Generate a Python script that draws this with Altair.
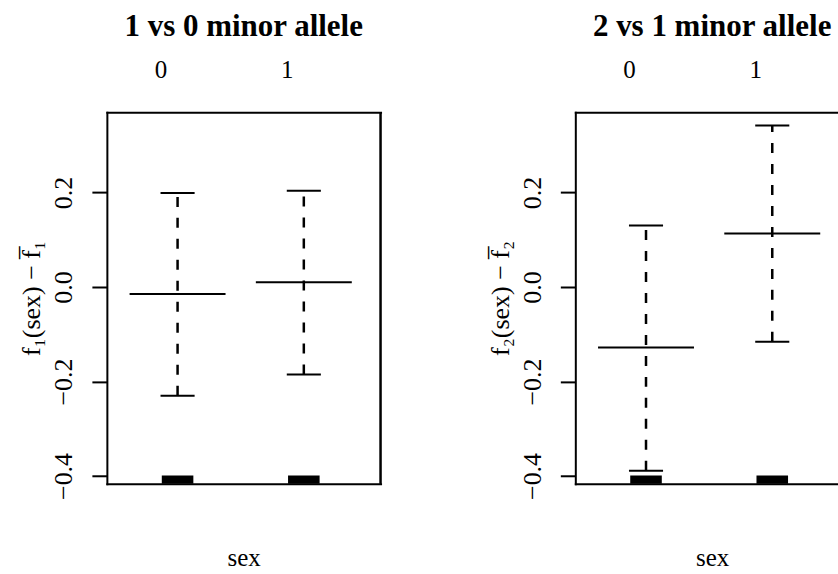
import altair as alt
import pandas as pd

# ---- data ----
groups = [0, 1]
panel_titles = ["1 vs 0 minor allele", "2 vs 1 minor allele"]
y_titles = ["f\u2081(sex) \u2212 f\u0305\u2081", "f\u2082(sex) \u2212 f\u0305\u2082"]
x_title = "sex"
upper_1 = [0.199, 0.204]
mean_1 = [-0.015, 0.010]
lower_1 = [-0.230, -0.185]
upper_2 = [0.130, 0.342]
mean_2 = [-0.128, 0.113]
lower_2 = [-0.389, -0.116]
y_ticks = [-0.4, -0.2, 0.0, 0.2]
x_ticks = [0, 1]
rug_top = -0.399

# ---- style / layout ----
FONT = "Liberation Serif"
Y_DOMAIN = [-0.4165, 0.370]
X_MIN = -0.56
PX_PER_UNIT = 126.4
H = 372
LEFT_W, RIGHT_W = 274, 263
MEAN_HALF, CAP_HALF, RUG_HALF = 0.38, 0.135, 0.125


def panel(idx, upper, mean, lower, width, right_edge):
    x_max = X_MIN + width / PX_PER_UNIT
    df = pd.DataFrame({"g": groups, "upper": upper, "mean": mean, "lower": lower})
    df["m0"] = df["g"] - MEAN_HALF
    df["m1"] = df["g"] + MEAN_HALF
    df["c0"] = df["g"] - CAP_HALF
    df["c1"] = df["g"] + CAP_HALF
    df["r0"] = df["g"] - RUG_HALF
    df["r1"] = df["g"] + RUG_HALF
    df["rug_top"] = rug_top
    df["ymin"] = Y_DOMAIN[0]

    xs = alt.Scale(domain=[X_MIN, x_max], nice=False, zero=False)
    ys = alt.Scale(domain=Y_DOMAIN, nice=False, zero=False)

    yax = alt.Axis(values=y_ticks, format=".1f", title=y_titles[idx], labelAngle=-90,
                   tickSize=15, tickWidth=2, tickColor="black", domainWidth=2,
                   domainColor="black", domainCap="square", labelFont=FONT, labelFontSize=26,
                   labelColor="black", labelPadding=15, titleFont=FONT, titleFontSize=26,
                   titleFontWeight="normal", titleColor="black", titlePadding=6, grid=False)
    bottom_ax = alt.Axis(orient="bottom", labels=False, ticks=False, domainWidth=2,
                         domainColor="black", domainCap="square", title=x_title, titleFont=FONT,
                         titleFontSize=25, titleFontWeight="normal", titleColor="black",
                         titlePadding=62, titleX=137, grid=False)
    top_ax = alt.Axis(orient="top", values=x_ticks, format="d", ticks=False, domainWidth=2,
                      domainColor="black", domainCap="square", labelOffset=-17, labelPadding=30,
                      labelFont=FONT, labelFontSize=25, labelColor="black", title=None, grid=False)

    base = alt.Chart(df)
    rug = base.mark_rect(color="black").encode(
        x=alt.X("r0:Q", scale=xs, axis=None), x2="r1",
        y=alt.Y("rug_top:Q", scale=ys, axis=yax), y2="ymin")
    dash = base.mark_rule(color="black", strokeWidth=2.5, strokeDash=[10, 11]).encode(
        x=alt.X("g:Q", scale=xs, axis=None),
        y=alt.Y("lower:Q", scale=ys, axis=yax), y2="upper")
    mean_l = base.mark_rule(color="black", strokeWidth=2).encode(
        x=alt.X("m0:Q", scale=xs, axis=bottom_ax), x2="m1",
        y=alt.Y("mean:Q", scale=ys, axis=yax))
    up_l = base.mark_rule(color="black", strokeWidth=2).encode(
        x=alt.X("c0:Q", scale=xs, axis=top_ax), x2="c1",
        y=alt.Y("upper:Q", scale=ys, axis=yax))
    lo_l = base.mark_rule(color="black", strokeWidth=2).encode(
        x=alt.X("c0:Q", scale=xs, axis=None), x2="c1",
        y=alt.Y("lower:Q", scale=ys, axis=yax))
    layers = [rug, dash, mean_l, up_l, lo_l]
    if right_edge:
        edge = alt.Chart(df).mark_rule(color="black", strokeWidth=2).encode(
            x=alt.X(datum=x_max, scale=xs, axis=None),
            y=alt.Y(datum=Y_DOMAIN[0], scale=ys, axis=yax),
            y2=alt.Y2(datum=Y_DOMAIN[1]))
        layers.append(edge)
    dx = 0 if right_edge else (LEFT_W - RIGHT_W) / 2
    return alt.layer(*layers).resolve_axis(x="independent").properties(
        width=width, height=H,
        title=alt.TitleParams(panel_titles[idx], font=FONT, fontSize=31, fontWeight="bold",
                              color="black", offset=14, dx=dx))


left = panel(0, upper_1, mean_1, lower_1, LEFT_W, True)
right = panel(1, upper_2, mean_2, lower_2, RIGHT_W, False)

chart = alt.hconcat(left, right, spacing=106).configure_view(strokeWidth=0).properties(
    padding={"left": 19, "top": 11, "right": 0, "bottom": 0}, background="white")

chart.save("out.html", embed_options={"renderer": "svg", "actions": False})
